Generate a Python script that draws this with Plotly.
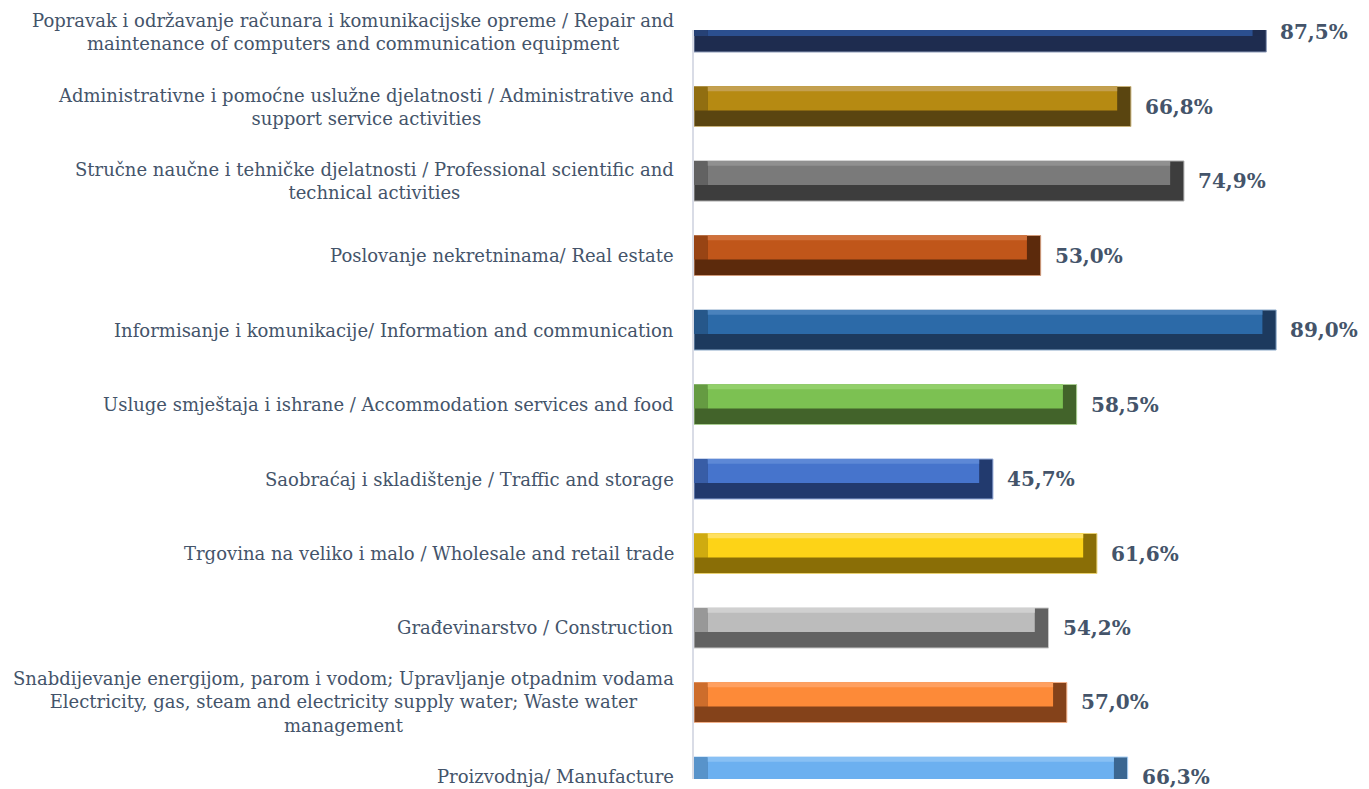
import plotly.graph_objects as go

# ---- data (top to bottom as shown) ----
categories = [
    "Popravak i održavanje računara i komunikacijske opreme / Repair and<br>maintenance of computers and communication equipment",
    "Administrativne i pomoćne uslužne djelatnosti / Administrative and<br>support service activities",
    "Stručne naučne i tehničke djelatnosti / Professional scientific and<br>technical activities",
    "Poslovanje nekretninama/ Real estate",
    "Informisanje i komunikacije/ Information and communication",
    "Usluge smještaja i ishrane / Accommodation services and food",
    "Saobraćaj i skladištenje / Traffic and storage",
    "Trgovina na veliko i malo / Wholesale and retail trade",
    "Građevinarstvo / Construction",
    "Snabdijevanje energijom, parom i vodom; Upravljanje otpadnim vodama<br>Electricity, gas, steam and electricity supply water; Waste water<br>management",
    "Proizvodnja/ Manufacture",
]
values = [87.5, 66.8, 74.9, 53.0, 89.0, 58.5, 45.7, 61.6, 54.2, 57.0, 66.3]

# ---- styles ----
face_colors = ["#2b4f8f", "#b68a12", "#7a7a7a", "#c0561a", "#2c6aa8", "#7cc152",
               "#4674cc", "#fdd317", "#bcbcbc", "#fd8a38", "#6cb0f0"]
shade_colors = ["#1e2c4f", "#5a4510", "#3d3d3d", "#5c2a0c", "#1d3a5e", "#42632a",
                "#223a6e", "#8a6e06", "#626262", "#84421a", "#3b6792"]
light_colors = ["#3a5fa0", "#c4a050", "#909090", "#d0703a", "#4a82bc", "#92d06a",
                "#5d88d6", "#ffe060", "#d0d0d0", "#ffa060", "#88c0f4"]
edge_colors = ["#8c9ab8", "#c8b27a", "#a8a8a8", "#d09a7a", "#8aa8c8", "#a8cc90",
               "#90a8d8", "#e8d070", "#c8c8c8", "#f0b088", "#a8cff4"]


def blend(c1, c2, t=0.5):
    a = [int(c1[i:i + 2], 16) for i in (1, 3, 5)]
    b = [int(c2[i:i + 2], 16) for i in (1, 3, 5)]
    return "#" + "".join(f"{round(x + (y - x) * t):02x}" for x, y in zip(a, b))


bevel_colors = [blend(f, s, 0.4) for f, s in zip(face_colors, shade_colors)]

text_color = "#44546a"
bar_w = 0.537
bevel = 2.1
n = len(values)

fig = go.Figure()

# shadow / full bar
fig.add_trace(go.Bar(
    y=categories, x=values, orientation="h",
    width=bar_w, offset=-bar_w / 2,
    marker=dict(color=shade_colors, line=dict(color=edge_colors, width=1)),
    hoverinfo="skip", showlegend=False,
))
# left bevel (upper part)
fig.add_trace(go.Bar(
    y=categories, x=[bevel] * n, orientation="h",
    width=bar_w * 0.6, offset=-bar_w / 2,
    marker=dict(color=bevel_colors, line=dict(width=0)),
    hoverinfo="skip", showlegend=False,
))
# face (upper part)
fig.add_trace(go.Bar(
    y=categories, x=[v - 2 * bevel for v in values], base=[bevel] * n,
    orientation="h",
    width=bar_w * 0.6, offset=-bar_w / 2,
    marker=dict(color=face_colors, line=dict(width=0)),
    hoverinfo="skip", showlegend=False,
))
# highlight strip
fig.add_trace(go.Bar(
    y=categories, x=[v - 2 * bevel for v in values], base=[bevel] * n,
    orientation="h",
    width=bar_w * 0.12, offset=-bar_w / 2,
    marker=dict(color=light_colors, line=dict(width=0)),
    hoverinfo="skip", showlegend=False,
))

annotations = []
for cat, v in zip(categories, values):
    annotations.append(dict(
        x=v, y=cat, xref="x", yref="y",
        text=f"{v:.1f}".replace(".", ",") + "%",
        showarrow=False, xanchor="left", yanchor="middle", xshift=12,
        font=dict(family="DejaVu Serif", size=20, color=text_color, weight="bold"),
    ))
    annotations.append(dict(
        x=0, y=cat, xref="paper", yref="y",
        text=cat, showarrow=False, xanchor="right", yanchor="middle",
        align="center", xshift=-18,
        font=dict(family="DejaVu Serif", size=18, color=text_color),
    ))

fig.update_layout(
    width=1361, height=781,
    margin=dict(l=686, r=0, t=22, b=10),
    paper_bgcolor="white", plot_bgcolor="white",
    barmode="overlay",
    xaxis=dict(range=[0, 103.2], showgrid=False, zeroline=False,
               showticklabels=False, showline=False, fixedrange=True),
    yaxis=dict(type="category", categoryorder="array", categoryarray=categories,
               range=[10.027, -0.027], showgrid=False, zeroline=False,
               showticklabels=False, ticks="", showline=True,
               linecolor="#d9dce6", linewidth=2, layer="above traces"),
    annotations=annotations,
)

fig.write_html("out.html")
